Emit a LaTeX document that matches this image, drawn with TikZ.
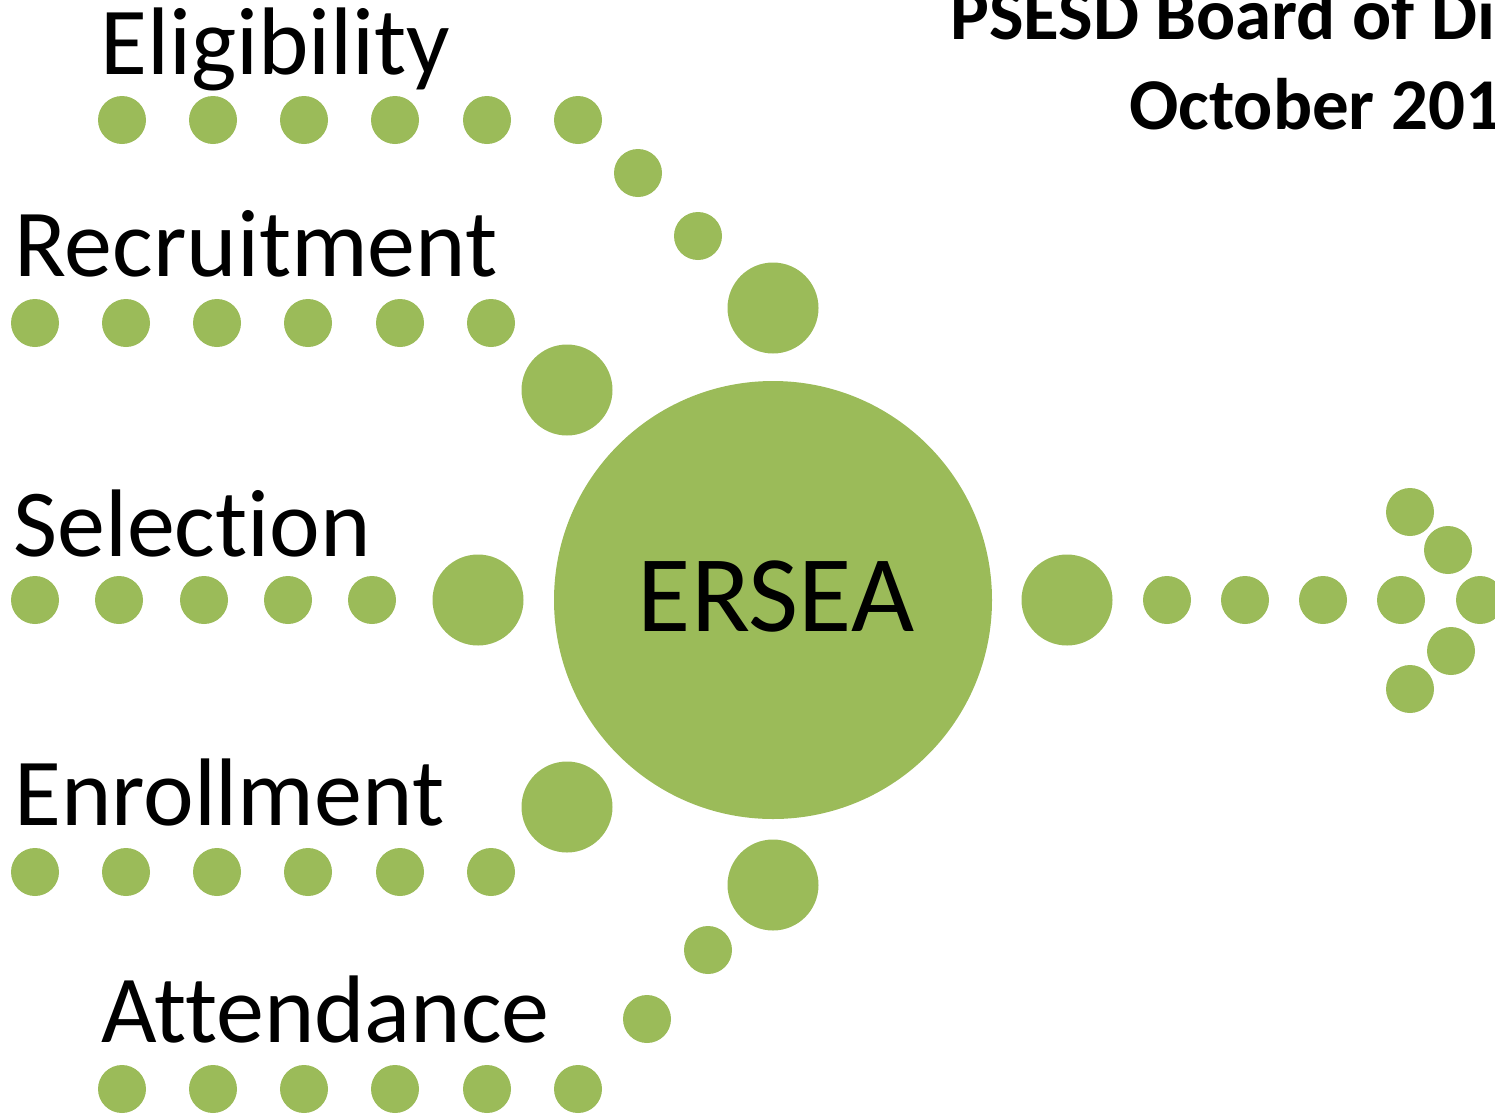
\documentclass[tikz,border=0pt]{standalone}
\usepackage{fontspec}
\setmainfont{Carlito}[RawFeature={-liga;-clig;-dlig}]
\definecolor{ersgreen}{HTML}{9BBB59}
\begin{document}
\begin{tikzpicture}[x=1pt,y=-1pt,
  dot/.style={circle,fill=ersgreen,draw=none,inner sep=0pt,minimum size=48pt},
  bigdot/.style={circle,fill=ersgreen,draw=none,inner sep=0pt,minimum size=91pt},
  hub/.style={circle,fill=ersgreen,draw=none,inner sep=0pt,minimum size=438pt},
  label/.style={anchor=base west,inner sep=0pt,font=\fontsize{96}{115}\selectfont},
  titletext/.style={anchor=base west,inner sep=0pt,font=\bfseries\fontsize{73}{88}\selectfont}]
\useasboundingbox (0,0) rectangle (1495,1114);
\clip (0,0) rectangle (1495,1114);
% hub
\node[hub] (hub) at (773,600) {};
\node[anchor=base,inner sep=0pt,font=\fontsize{109}{130}\selectfont] (hubtext) at (776,631) {ERSEA};
% title
\node[titletext] (title1) at (950,39) {PSESD Board of Di};
\node[titletext] (title2) at (1129,129) {October 201};
% labels
\node[label] (lelig) at (100,74) {Eligibility};
\node[label] (lrecr) at (14,276) {Recruitment};
\node[label] (lsel) at (13,556) {Selection};
\node[label] (lenr) at (14,825) {Enrollment};
\node[label] (latt) at (101,1042) {Attendance};
% eligibility path
\foreach \x [count=\i] in {122,213,304,395,487,578} \node[dot] (el\i) at (\x,120) {};
\node[dot] (el7) at (638,173) {};
\node[dot] (el8) at (698,236) {};
\node[bigdot] (elbig) at (773,308) {};
% recruitment path
\foreach \x [count=\i] in {35,126,217,308,400,491} \node[dot] (re\i) at (\x,323) {};
\node[bigdot] (rebig) at (567,390) {};
% selection path
\foreach \x [count=\i] in {35,119,204,288,372} \node[dot] (se\i) at (\x,600) {};
\node[bigdot] (sebig) at (478,600) {};
% enrollment path
\foreach \x [count=\i] in {35,126,217,308,400,491} \node[dot] (en\i) at (\x,872) {};
\node[bigdot] (enbig) at (567,807) {};
% attendance path
\foreach \x [count=\i] in {122,213,304,395,487,578} \node[dot] (at\i) at (\x,1089) {};
\node[dot] (at7) at (647,1019) {};
\node[dot] (at8) at (708,950) {};
\node[bigdot] (atbig) at (773,885) {};
% outgoing arrow
\node[bigdot] (outbig) at (1067,600) {};
\foreach \x [count=\i] in {1167,1245,1323,1401,1480} \node[dot] (out\i) at (\x,600) {};
\node[dot] (head1) at (1410,512) {};
\node[dot] (head2) at (1448,550) {};
\node[dot] (head3) at (1451,651) {};
\node[dot] (head4) at (1410,689) {};
\end{tikzpicture}
\end{document}
